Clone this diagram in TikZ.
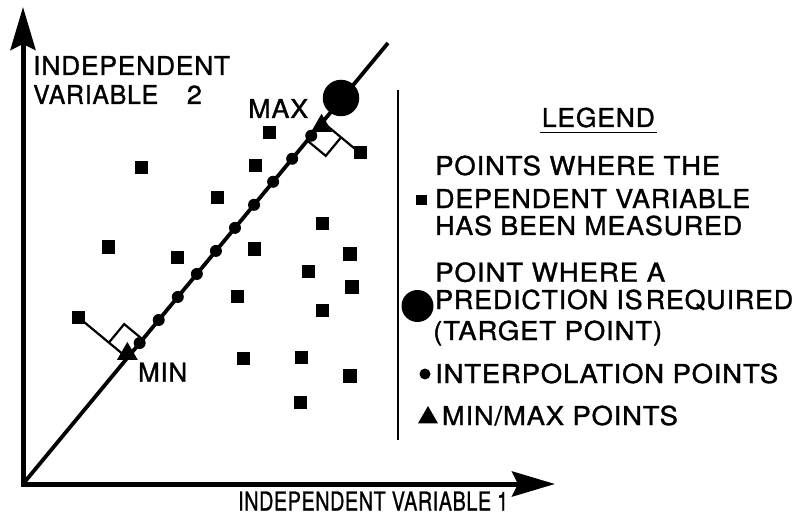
\documentclass[tikz,border=0pt]{standalone}
\usepackage{fontspec}
\setmainfont{TeX Gyre Heros}[LetterSpace=3,FakeBold=1.2]
\usetikzlibrary{arrows.meta,calc,shapes.geometric}
\newcommand{\fitw}[2]{\resizebox{#1pt}{\height}{#2}}
\begin{document}
\begin{tikzpicture}[x=1pt,y=-1pt,
  txt/.style={inner sep=0pt, anchor=base west, font=\fontsize{26pt}{30pt}\selectfont},
  sq/.style={rectangle, fill=black, inner sep=0pt, minimum size=13pt},
  bigsq/.style={sq, minimum size=14.5pt},
  dot/.style={circle, fill=black, inner sep=0pt, minimum size=12pt},
  tri/.style={regular polygon, regular polygon sides=3, fill=black, inner sep=0pt, minimum size=24pt},
  target/.style={circle, fill=black, inner sep=0pt, minimum size=36.5pt},
  axis/.style={line width=5pt, {Stealth[length=43pt,width=25pt,inset=6pt]}-{Stealth[length=43pt,width=25pt,inset=6pt]}},
  diag/.style={line width=3.8pt},
  perp/.style={line width=2.2pt},
  ra/.style={line width=2.2pt},
  sep/.style={line width=2.2pt},
]
\useasboundingbox (0,0) rectangle (796,516);
% axes
\coordinate (O) at (23,484);
\coordinate (Ytip) at (23,7);
\coordinate (Xtip) at (555,484);
\coordinate (E) at (388,43);
\draw[axis] (Ytip) -- (O) -- (Xtip);
\draw[diag] (O) -- (E);
% measured points
\foreach \x/\y/\n in {269/133/s1, 141/168/s2, 255/166/s3, 217/198/s5, 322/224/s6,
  108/247/s7, 254/249/s8, 177/257/s10, 308/271/s11, 237/296/s13, 322/310/s14,
  243/358/s16, 301/357/s17, 300/402/s19}
  \node[sq] (\n) at (\x,\y) {};
\foreach \x/\y/\n in {350/254/s9, 352/287/s12, 350/376/s18}
  \node[bigsq] (\n) at (\x,\y) {};
\node[sq] (smin) at (78,317) {};
\node[sq] (smax) at (360,153) {};
% interpolation points
\foreach \k in {0,...,9}{
  \pgfmathsetmacro{\t}{183+29.9*\k}
  \node[dot] (ip\k) at ($(O)!\t pt!(E)$) {};
}
% feet of perpendiculars
\coordinate (Fmin) at ($(O)!(smin)!(E)$);
\coordinate (Fmax) at ($(O)!(smax)!(E)$);
\draw[perp] (smin.center) -- (Fmin);
\draw[perp] (smax.center) -- (Fmax);
\coordinate (Amin) at ($(Fmin)!24pt!(E)$);
\coordinate (Bmin) at ($(Fmin)!24pt!(smin)$);
\draw[ra] (Amin) -- ($(Amin)+(Bmin)-(Fmin)$) -- (Bmin);
\coordinate (Amax) at ($(Fmax)!24pt!(O)$);
\coordinate (Bmax) at ($(Fmax)!24pt!(smax)$);
\draw[ra] (Amax) -- ($(Amax)+(Bmax)-(Fmax)$) -- (Bmax);
\node[tri] (tmin) at ($(Fmin)+(0,-4)$) {};
\node[tri] (tmax) at ($(Fmax)+(-1,3.7)$) {};
\node[target] (tgt) at (341,98) {};
% labels
\node[txt] (lmin) at (138,381.7) {\fitw{49}{MIN}};
\node[txt] (lmax) at (248,118) {\fitw{60}{MAX}};
\node[txt] (yl1) at (33,75) {\fitw{197}{INDEPENDENT}};
\node[txt] (yl2) at (33,104) {\makebox[153.7pt][l]{\fitw{125}{VARIABLE}}\fitw{15}{2}};
\node[txt] (xl) at (238,510.5) {\fitw{270}{INDEPENDENT VARIABLE 1}};
% legend
\coordinate (sepT) at (398,90);
\coordinate (sepB) at (398,440);
\draw[sep] (sepT) -- (sepB);
\node[txt] (leg) at (541.7,127) {\fitw{113}{LEGEND}};
\draw[line width=1.6pt] ($(leg.base west)+(-2,5.5)$) -- ($(leg.base east)+(2,5.5)$);
\node[txt] (l1) at (435,175) {\fitw{285}{POINTS WHERE THE}};
\node[txt] (l2) at (435,208) {\fitw{315}{DEPENDENT VARIABLE}};
\node[txt] (l3) at (435,235) {\fitw{307}{HAS BEEN MEASURED}};
\node[txt] (l4) at (435,281.7) {\fitw{230}{POINT WHERE A}};
\node[txt] (l5) at (435,309) {\fitw{358}{PREDICTION IS\hspace{3pt}REQUIRED}};
\node[txt] (l6) at (433,340) {\fitw{229}{(TARGET POINT)}};
\node[txt] (l7) at (435,383) {\fitw{343}{INTERPOLATION POINTS}};
\node[txt] (l8) at (441.7,425) {\fitw{236}{MIN/MAX POINTS}};
\node[sq, minimum size=10.5pt] (lsq) at (421.5,200) {};
\node[target, minimum size=32pt] (lcirc) at (417.5,306) {};
\node[dot, minimum size=11pt] (ldot) at (425,374) {};
\node[tri, minimum size=23pt] (ltri) at (428,417.5) {};
\end{tikzpicture}
\end{document}
